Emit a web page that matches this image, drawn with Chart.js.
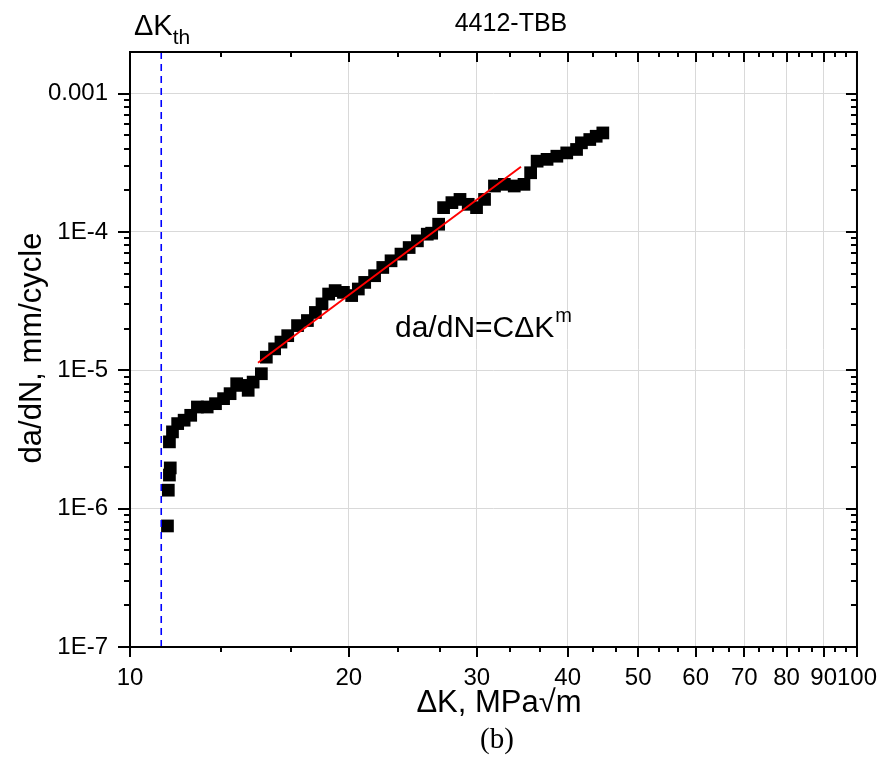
<!DOCTYPE html>
<html>
<head>
<meta charset="utf-8">
<title>4412-TBB</title>
<script src="https://cdn.jsdelivr.net/npm/chart.js@4.4.1/dist/chart.umd.min.js"></script>
<style>
  html, body { margin: 0; padding: 0; background: #fff; }
  #wrap { width: 894px; height: 778px; }
</style>
</head>
<body>
<div id="wrap"><canvas id="fcgChart" width="894" height="778"></canvas></div>
<script>
// axis ranges and tick labels
const xRange = [10, 100];
const yRange = [1e-7, 0.002];
const xMajorTicks = [10, 20, 30, 40, 50, 60, 70, 80, 90, 100];
const xTickLabels = ['10', '20', '30', '40', '50', '60', '70', '80', '90', '100'];
const yMajorTicks = [1e-7, 1e-6, 1e-5, 1e-4, 1e-3];
const yTickLabels = ['1E-7', '1E-6', '1E-5', '1E-4', '0.001'];

const deltaK = [
  11.26, 11.29, 11.33, 11.36, 11.33, 11.44, 11.63, 11.87, 12.12, 12.38,
  12.77, 13.11, 13.45, 13.73, 14.02, 14.24, 14.54, 14.77, 15.16, 15.40,
  15.81, 16.13, 16.48, 17.00, 17.54, 17.99, 18.37, 18.76, 19.15, 19.66,
  20.18, 20.61, 21.03, 21.70, 22.27, 22.86, 23.59, 24.21, 24.85, 25.64,
  26.00, 26.58, 27.00, 27.72, 28.44, 29.19, 29.97, 30.74, 31.72, 32.73,
  33.77, 34.83, 35.57, 36.31, 37.47, 38.65, 39.88, 41.14, 41.78, 42.90,
  43.78, 44.71
];
const dadN = [
  7.50e-7, 1.36e-6, 1.75e-6, 1.97e-6, 3.04e-6, 3.59e-6, 4.12e-6, 4.36e-6, 4.73e-6, 5.43e-6,
  5.43e-6, 5.74e-6, 6.24e-6, 6.78e-6, 8.00e-6, 7.78e-6, 7.17e-6, 8.22e-6, 9.45e-6, 1.245e-5,
  1.43e-5, 1.60e-5, 1.78e-5, 2.105e-5, 2.29e-5, 2.62e-5, 3.02e-5, 3.56e-5, 3.77e-5, 3.66e-5,
  3.47e-5, 3.87e-5, 4.32e-5, 4.83e-5, 5.54e-5, 6.19e-5, 6.92e-5, 7.72e-5, 8.63e-5, 9.64e-5,
  9.80e-5, 1.138e-4, 1.50e-4, 1.63e-4, 1.72e-4, 1.585e-4, 1.50e-4, 1.72e-4, 2.15e-4, 2.21e-4,
  2.15e-4, 2.21e-4, 2.68e-4, 3.25e-4, 3.35e-4, 3.53e-4, 3.73e-4, 3.95e-4, 4.41e-4, 4.66e-4,
  4.92e-4, 5.20e-4
];

// Paris law fit segment and threshold
const fitK = [15.0, 34.5];
const fitRate = [1.135e-5, 2.96e-4];
const thresholdK = 11.04;

const sans = '"Liberation Sans", Arial, sans-serif';

const frame = {
  id: 'frame',
  afterDatasetsDraw(chart) {
    const { ctx, chartArea: a, scales: { x, y } } = chart;
    ctx.save();
    ctx.strokeStyle = '#000';
    ctx.lineWidth = 2;
    ctx.strokeRect(a.left, a.top, a.right - a.left, a.bottom - a.top);

    ctx.beginPath();
    for (let i = 0; i < xMajorTicks.length; i++) {
      const v = xMajorTicks[i];
      const px = Math.round(x.getPixelForValue(v));
      ctx.moveTo(px, a.bottom); ctx.lineTo(px, a.bottom + 10);
      ctx.moveTo(px, a.top); ctx.lineTo(px, a.top + 10);
      if (i < xMajorTicks.length - 1) {
        const step = (xMajorTicks[i + 1] - v) / 3;
        for (let j = 1; j <= 2; j++) {
          const mx = Math.round(x.getPixelForValue(v + j * step));
          ctx.moveTo(mx, a.bottom); ctx.lineTo(mx, a.bottom + 5);
          ctx.moveTo(mx, a.top); ctx.lineTo(mx, a.top + 5);
        }
      }
    }
    for (const d of yMajorTicks) {
      const py = Math.round(y.getPixelForValue(d));
      ctx.moveTo(a.left - 12, py); ctx.lineTo(a.left, py);
      ctx.moveTo(a.right, py); ctx.lineTo(a.right - 11, py);
      for (let k = 2; k <= 9; k++) {
        const v = k * d;
        if (v >= yRange[1]) break;
        const my = Math.round(y.getPixelForValue(v));
        ctx.moveTo(a.left - 6, my); ctx.lineTo(a.left, my);
        ctx.moveTo(a.right, my); ctx.lineTo(a.right - 6, my);
      }
    }
    ctx.stroke();

    ctx.fillStyle = '#000';
    ctx.textBaseline = 'alphabetic';
    ctx.textAlign = 'center';
    ctx.font = '25px ' + sans;
    ctx.fillText('4412-TBB', 511, 31);

    // threshold label
    ctx.textAlign = 'left';
    ctx.font = '29px ' + sans;
    ctx.fillText('\u0394K', 134, 35);
    let w = ctx.measureText('\u0394K').width;
    ctx.font = '21px ' + sans;
    ctx.fillText('th', 134 + w, 44);

    // Paris law label
    ctx.font = '30px ' + sans;
    ctx.fillText('da/dN=C\u0394K', 395, 337);
    w = ctx.measureText('da/dN=C\u0394K').width;
    ctx.font = '20px ' + sans;
    ctx.fillText('m', 395 + w + 1, 322);

    // axis titles
    ctx.textAlign = 'center';
    ctx.font = '31px ' + sans;
    ctx.fillText('\u0394K, MPa\u221Am', 499, 712);
    ctx.save();
    ctx.translate(41, 348);
    ctx.rotate(-Math.PI / 2);
    ctx.fillText('da/dN, mm/cycle', 0, 0);
    ctx.restore();

    ctx.font = '29px "Liberation Serif", "Times New Roman", serif';
    ctx.fillText('(b)', 497, 748);
    ctx.restore();
  }
};

new Chart(document.getElementById('fcgChart'), {
  data: {
    datasets: [
      {
        type: 'line',
        label: 'fit',
        data: fitK.map((k, i) => ({ x: k, y: fitRate[i] })),
        borderColor: '#ff0000',
        borderWidth: 2,
        pointRadius: 0,
        order: 0
      },
      {
        type: 'line',
        label: 'threshold',
        data: [{ x: thresholdK, y: yRange[0] }, { x: thresholdK, y: yRange[1] }],
        borderColor: '#0000ff',
        borderWidth: 1.6,
        borderDash: [7, 5],
        pointRadius: 0,
        order: 1
      },
      {
        type: 'scatter',
        label: '4412-TBB',
        data: deltaK.map((k, i) => ({ x: k, y: dadN[i] })),
        pointStyle: 'rect',
        pointRadius: 9,
        backgroundColor: '#000',
        borderWidth: 0,
        order: 2
      }
    ]
  },
  options: {
    responsive: false,
    animation: false,
    layout: { padding: { top: 52, right: 26, left: 0, bottom: 0 } },
    plugins: { legend: { display: false }, tooltip: { enabled: false } },
    scales: {
      x: {
        type: 'logarithmic',
        min: xRange[0],
        max: xRange[1],
        afterBuildTicks: s => { s.ticks = xMajorTicks.map(v => ({ value: v })); },
        afterFit: s => { s.height = 131; },
        grid: { color: '#d9d9d9', lineWidth: 1, drawTicks: false },
        border: { display: false },
        ticks: {
          autoSkip: false,
          maxRotation: 0,
          padding: 17,
          color: '#000',
          font: { family: sans, size: 24 },
          callback: (v, i) => xTickLabels[i]
        }
      },
      y: {
        type: 'logarithmic',
        min: yRange[0],
        max: yRange[1],
        afterBuildTicks: s => { s.ticks = yMajorTicks.map(v => ({ value: v })); },
        afterFit: s => { s.width = 130; },
        grid: { color: '#d9d9d9', lineWidth: 1, drawTicks: false },
        border: { display: false },
        ticks: {
          padding: 22,
          color: '#000',
          font: { family: sans, size: 24 },
          callback: (v, i) => yTickLabels[i]
        }
      }
    }
  },
  plugins: [frame]
});
</script>
</body>
</html>
